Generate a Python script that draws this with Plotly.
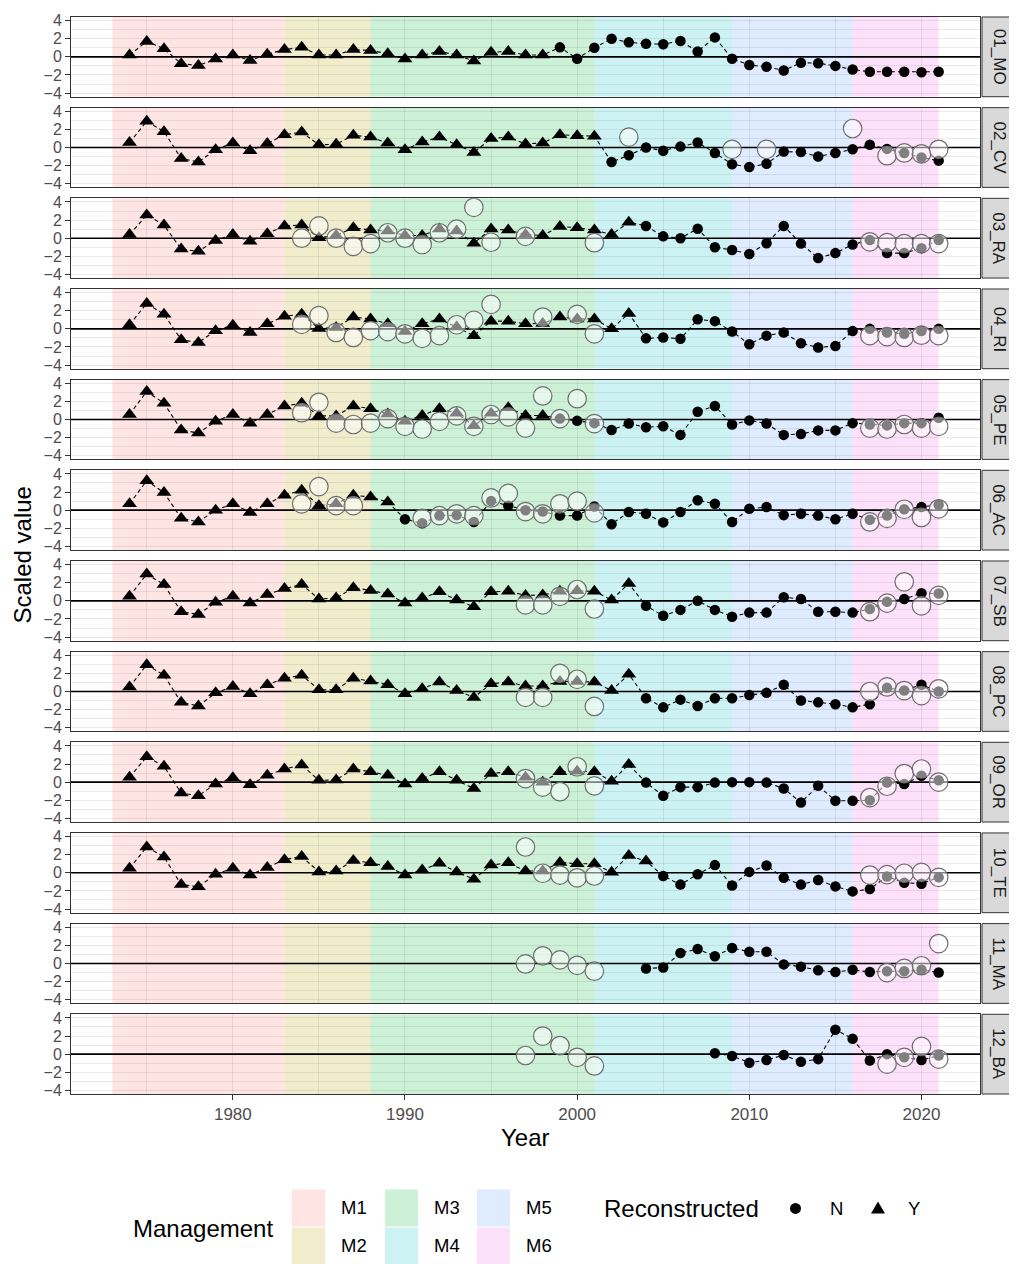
import plotly.graph_objects as go
from plotly.subplots import make_subplots

# ---------------- data ----------------
sites = ["01_MO", "02_CV", "03_RA", "04_RI", "05_PE", "06_AC",
         "07_SB", "08_PC", "09_OR", "10_TE", "11_MA", "12_BA"]

mgmt_labels = ["M1", "M2", "M3", "M4", "M5", "M6"]
mgmt_start = [1973, 1983, 1988, 2001, 2009, 2016]
mgmt_end = [1983, 1988, 2001, 2009, 2016, 2021]
mgmt_colors = ["rgba(248,118,109,0.2)", "rgba(183,159,0,0.2)", "rgba(0,186,56,0.2)",
               "rgba(0,191,196,0.2)", "rgba(97,156,255,0.2)", "rgba(245,100,227,0.2)"]

x_ticks = [1980, 1990, 2000, 2010, 2020]
y_ticks = [-4, -2, 0, 2, 4]

years_long = list(range(1974, 2022))
years_ma = list(range(2004, 2022))
years_ba = list(range(2008, 2022))

v01_MO = [0.2, 1.7, 0.9, -0.75, -0.95, -0.25, 0.2, -0.4, 0.3, 0.8,
          1.05, 0.2, 0.2, 0.8, 0.7, 0.35, -0.25, 0.2, 0.6, 0.2,
          -0.45, 0.5, 0.6, 0.2, 0.2, 1.05, -0.2, 1.0, 2.0, 1.6,
          1.45, 1.4, 1.75, 0.6, 2.15, -0.2, -0.9, -1.1, -1.5, -0.65,
          -0.7, -1.0, -1.4, -1.65, -1.65, -1.65, -1.7, -1.65]
v02_CV = [0.55, 2.9, 1.75, -1.2, -1.6, -0.25, 0.5, -0.35, 0.45, 1.4,
          1.7, 0.3, 0.35, 1.35, 1.15, 0.5, -0.25, 0.6, 1.15, 0.3,
          -0.55, 1.0, 1.15, 0.4, 0.5, 1.4, 1.3, 1.25, -1.6, -0.85,
          0.0, -0.35, 0.1, 0.55, -0.6, -1.85, -2.15, -1.8, -0.45, -0.5,
          -1.0, -0.6, -0.2, 0.3, -0.15, -0.6, -1.1, -1.45]
v03_RA = [0.4, 2.55, 1.45, -1.2, -1.45, -0.25, 0.4, -0.35, 0.5, 1.35,
          1.45, 0.05, 0.3, 1.15, 0.9, 0.8, 0.3, 0.3, 1.0, 0.8,
          -0.55, 1.0, 0.9, 0.4, 0.3, 1.3, 1.15, 0.9, 0.4, 1.75,
          1.35, 0.2, 0.0, 1.05, -1.0, -1.3, -1.75, -0.55, 1.35, -0.6,
          -2.2, -1.65, -0.7, -0.2, -1.65, -1.65, -1.1, -0.2]
v04_RI = [0.45, 2.8, 1.6, -1.2, -1.5, -0.2, 0.4, -0.4, 0.55, 1.4,
          1.6, 0.05, 0.15, 1.3, 1.1, 0.55, -0.3, 0.55, 1.1, 0.2,
          -0.75, 0.85, 0.85, 0.55, 0.6, 1.3, 1.1, 1.1, 0.0, 1.7,
          -1.05, -0.95, -1.1, 1.05, 0.85, -0.3, -1.7, -0.75, -0.4, -1.6,
          -2.05, -1.9, -0.25, 0.0, -0.4, -0.55, -0.25, 0.0]
v05_PE = [0.55, 3.1, 1.8, -1.15, -1.5, -0.2, 0.55, -0.4, 0.55, 1.5,
          1.8, 0.4, 0.4, 1.5, 1.2, 0.6, -0.2, 0.45, 1.2, 0.7,
          -0.7, 0.7, 1.3, 0.45, 0.45, 0.1, -0.15, -0.4, -1.15, -0.45,
          -0.85, -0.75, -1.7, 0.85, 1.5, -0.55, -0.1, -0.45, -1.7, -1.6,
          -1.2, -1.2, -0.4, -0.55, -0.65, -0.4, -0.4, 0.2]
v06_AC = [0.7, 3.25, 1.95, -0.9, -1.3, 0.0, 0.7, -0.25, 0.7, 1.65,
          2.2, 0.5, 0.7, 1.65, 1.45, 0.9, -1.0, -1.45, -0.6, -0.55,
          -1.3, 1.0, 0.5, 0.0, -0.15, -0.6, -0.6, 0.4, -1.55, -0.2,
          -0.4, -1.35, -0.2, 1.1, 0.7, -1.3, 0.15, 0.35, -0.55, -0.4,
          -0.6, -1.0, -0.4, -1.05, -0.6, 0.1, 0.35, 0.6]
v07_SB = [0.5, 2.95, 1.8, -1.2, -1.5, -0.15, 0.5, -0.25, 0.7, 1.35,
          1.8, 0.2, 0.3, 1.45, 1.15, 0.75, -0.25, 0.3, 1.0, 0.1,
          -0.65, 1.0, 1.05, 0.6, 0.65, 1.05, 1.1, 1.05, 0.1, 1.9,
          -0.55, -1.65, -1.0, 0.0, -1.0, -1.75, -1.3, -1.3, 0.4, 0.2,
          -1.2, -1.2, -1.3, -0.9, -0.1, 0.2, 0.85, 0.8]
v08_PC = [0.5, 2.95, 1.8, -1.2, -1.6, -0.15, 0.55, -0.25, 0.75, 1.45,
          1.8, 0.2, 0.2, 1.45, 1.15, 0.75, -0.25, 0.3, 1.05, 0.1,
          -0.65, 0.85, 1.05, 0.6, 0.6, 1.1, 1.1, 1.05, 0.1, 1.9,
          -0.75, -1.75, -0.9, -1.6, -0.75, -0.75, -0.4, -0.15, 0.75, -1.0,
          -1.2, -1.4, -1.75, -1.4, 0.4, 0.1, 0.75, 0.0]
v09_OR = [0.55, 2.8, 1.75, -1.2, -1.5, -0.2, 0.5, -0.3, 0.75, 1.45,
          1.9, 0.2, 0.25, 1.45, 1.15, 0.75, -0.2, 0.4, 1.15, 0.2,
          -0.7, 0.95, 1.15, 0.55, 0.0, 1.15, 1.2, 1.15, 0.1, 1.95,
          -0.05, -1.5, -0.55, -0.55, -0.05, 0.0, 0.0, -0.05, -0.7, -2.25,
          -0.4, -2.05, -2.05, -2.0, -0.05, -0.2, 0.7, 0.2]
v10_TE = [0.5, 2.85, 1.75, -1.3, -1.55, -0.15, 0.5, -0.25, 0.6, 1.45,
          1.8, 0.1, 0.2, 1.35, 1.1, 0.7, -0.25, 0.3, 1.05, 0.1,
          -0.7, 0.85, 1.1, 0.2, 0.2, 1.15, 1.0, 1.0, 0.05, 1.9,
          1.3, -0.35, -1.3, -0.15, 0.85, -1.4, 0.1, 0.8, -0.55, -1.3,
          -0.8, -1.5, -2.05, -1.8, -0.4, -1.1, -1.2, -0.5]
v11_MA = [-0.55, -0.45, 1.15, 1.6, 0.8, 1.7, 1.3, 1.3, -0.1, -0.35,
          -0.75, -0.95, -0.7, -0.95, -0.85, -0.85, -0.7, -1.0]
v12_BA = [0.1, -0.2, -0.95, -0.65, -0.1, -0.85, -0.55, 2.7, 1.7, -0.7,
          0.0, -0.35, -0.65, -0.15]

black_years = [years_long] * 10 + [years_ma, years_ba]
black_vals = [v01_MO, v02_CV, v03_RA, v04_RI, v05_PE, v06_AC,
              v07_SB, v08_PC, v09_OR, v10_TE, v11_MA, v12_BA]
# last year flagged as Reconstructed = "Y" (triangles); later years are "N"
recon_last_year = [1998, 2001, 2003, 2003, 1998, 1989, 2003, 2003, 2003, 2004, None, None]

# open-circle series
c01_MO_years, c01_MO_vals = [], []
c02_CV_years = [2003, 2009, 2011, 2016, 2018, 2019, 2020, 2021]
c02_CV_vals = [1.15, -0.2, -0.2, 2.1, -0.9, -0.6, -0.7, -0.2]
c03_RA_years = [1984, 1985, 1986, 1987, 1988, 1989, 1990, 1991, 1992, 1993, 1994, 1995, 1997, 2001,
                2017, 2018, 2019, 2020, 2021]
c03_RA_vals = [0.0, 1.35, 0.0, -0.9, -0.6, 0.6, 0.0, -0.7, 0.6, 1.0, 3.4, -0.45, 0.2, -0.5,
               -0.4, -0.5, -0.6, -0.6, -0.6]
c04_RI_years = [1984, 1985, 1986, 1987, 1988, 1989, 1990, 1991, 1992, 1993, 1994, 1995, 1998, 2000, 2001,
                2017, 2018, 2019, 2020, 2021]
c04_RI_vals = [0.5, 1.45, -0.4, -0.95, -0.2, -0.3, -0.55, -1.05, -0.75, 0.45, 0.95, 2.7, 1.3, 1.6, -0.55,
               -0.75, -0.85, -0.95, -0.7, -0.75]
c05_PE_years = [1984, 1985, 1986, 1987, 1988, 1989, 1990, 1991, 1992, 1993, 1994, 1995, 1996, 1997, 1998,
                1999, 2000, 2001, 2017, 2018, 2019, 2020, 2021]
c05_PE_vals = [0.75, 1.9, -0.4, -0.55, -0.4, 0.1, -0.75, -1.05, -0.2, 0.4, -0.75, 0.55, 0.3, -0.95, 2.6,
               0.1, 2.3, -0.45, -0.95, -1.05, -0.55, -0.95, -0.75]
c06_AC_years = [1984, 1985, 1986, 1987, 1991, 1992, 1993, 1994, 1995, 1996, 1997, 1998, 1999, 2000, 2001,
                2017, 2018, 2019, 2020, 2021]
c06_AC_vals = [0.7, 2.6, 0.5, 0.5, -0.9, -0.6, -0.4, -0.6, 1.35, 1.85, -0.15, -0.4, 0.7, 1.0, -0.3,
               -1.3, -0.9, 0.1, -0.8, 0.15]
c07_SB_years = [1997, 1998, 1999, 2000, 2001, 2017, 2018, 2019, 2020, 2021]
c07_SB_vals = [-0.45, -0.45, 0.5, 1.25, -0.9, -1.2, -0.25, 2.1, -0.55, 0.6]
c08_PC_years = [1997, 1998, 1999, 2000, 2001, 2017, 2018, 2019, 2020, 2021]
c08_PC_vals = [-0.65, -0.65, 2.0, 1.35, -1.65, 0.0, 0.5, 0.1, -0.45, 0.3]
c09_OR_years = [1997, 1998, 1999, 2000, 2001, 2017, 2018, 2019, 2020, 2021]
c09_OR_vals = [0.4, -0.55, -1.05, 1.7, -0.4, -1.7, -0.45, 0.95, 1.45, 0.0]
c10_TE_years = [1997, 1998, 1999, 2000, 2001, 2017, 2018, 2019, 2020, 2021]
c10_TE_vals = [2.85, -0.05, -0.25, -0.55, -0.35, -0.25, -0.2, -0.05, 0.05, -0.5]
c11_MA_years = [1997, 1998, 1999, 2000, 2001, 2018, 2019, 2020, 2021]
c11_MA_vals = [-0.05, 0.85, 0.4, -0.2, -0.85, -1.0, -0.55, -0.25, 2.2]
c12_BA_years = [1997, 1998, 1999, 2000, 2001, 2018, 2019, 2020, 2021]
c12_BA_vals = [-0.15, 2.0, 0.95, -0.35, -1.3, -1.1, -0.35, 0.85, -0.55]

circ_years = [c01_MO_years, c02_CV_years, c03_RA_years, c04_RI_years, c05_PE_years, c06_AC_years,
              c07_SB_years, c08_PC_years, c09_OR_years, c10_TE_years, c11_MA_years, c12_BA_years]
circ_vals = [c01_MO_vals, c02_CV_vals, c03_RA_vals, c04_RI_vals, c05_PE_vals, c06_AC_vals,
             c07_SB_vals, c08_PC_vals, c09_OR_vals, c10_TE_vals, c11_MA_vals, c12_BA_vals]

# ---------------- layout ----------------
OFF = 8                      # default page body margin
W, H = 1017 - OFF, 1264 - OFF
ML, MR, MT, MB = 71 - OFF, 37, 12 - OFF, 170
PW = W - ML - MR
PH = H - MT - MB
X_RANGE = [1970.6, 2023.4]
Y_RANGE = [-4.4, 4.4]


def fx(px):
    return (px - OFF - ML) / PW


def fy(py):
    return (H - MB - (py - OFF)) / PH


FONT = "Liberation Sans, Arial, Helvetica, sans-serif"
TICK_COL = "#4D4D4D"
BORDER = "#333333"
GRID = "rgba(0,0,0,0.078)"
NP = len(sites)

fig = make_subplots(rows=NP, cols=1, vertical_spacing=11 / PH)

shapes = []
annotations = []

for i, site in enumerate(sites):
    r = i + 1
    xn = "x" if r == 1 else f"x{r}"
    yn = "y" if r == 1 else f"y{r}"
    ydom = fig.layout["yaxis" if r == 1 else f"yaxis{r}"].domain
    xs, ys = black_years[i], black_vals[i]
    last = recon_last_year[i]

    # management background rects
    for m in range(len(mgmt_labels)):
        shapes.append(dict(type="rect", xref=xn, yref=yn,
                           x0=mgmt_start[m], x1=mgmt_end[m], y0=Y_RANGE[0], y1=Y_RANGE[1],
                           fillcolor=mgmt_colors[m], line=dict(width=0), layer="below"))
    # zero line
    shapes.append(dict(type="line", xref=xn, yref=yn, x0=X_RANGE[0], x1=X_RANGE[1], y0=0, y1=0,
                       line=dict(color="black", width=1.6), layer="below"))
    # strip
    shapes.append(dict(type="rect", xref="paper", yref="paper",
                       x0=fx(982), x1=fx(1016), y0=ydom[0], y1=ydom[1],
                       fillcolor="#D9D9D9", line=dict(color=BORDER, width=1), layer="above"))
    annotations.append(dict(text=site, xref="paper", yref="paper", x=fx(999),
                            y=(ydom[0] + ydom[1]) / 2,
                            showarrow=False, textangle=90, xanchor="center", yanchor="middle",
                            font=dict(family=FONT, size=17, color="#1A1A1A")))

    # dashed line through the series
    fig.add_trace(go.Scatter(x=xs, y=ys, mode="lines",
                             line=dict(color="black", width=1.1, dash="4px,3px"),
                             showlegend=False, hoverinfo="skip"), row=r, col=1)
    tx = [x for x in xs if last is not None and x <= last]
    ty = [y for x, y in zip(xs, ys) if last is not None and x <= last]
    nx = [x for x in xs if last is None or x > last]
    ny = [y for x, y in zip(xs, ys) if last is None or x > last]
    if tx:
        fig.add_trace(go.Scatter(x=tx, y=ty, mode="markers",
                                 marker=dict(symbol="triangle-up", size=13, color="black"),
                                 showlegend=False), row=r, col=1)
    if nx:
        fig.add_trace(go.Scatter(x=nx, y=ny, mode="markers",
                                 marker=dict(symbol="circle", size=10.5, color="black"),
                                 showlegend=False), row=r, col=1)
    if circ_years[i]:
        fig.add_trace(go.Scatter(x=circ_years[i], y=circ_vals[i], mode="markers",
                                 marker=dict(symbol="circle", size=18.5, color="rgba(255,255,255,0.5)",
                                             line=dict(color="#6E6E6E", width=1.2)),
                                 showlegend=False), row=r, col=1)

    bottom = (r == NP)
    fig.update_xaxes(range=X_RANGE, tickmode="array", tickvals=x_ticks,
                     showgrid=True, gridcolor=GRID, gridwidth=1.1,
                     minor=dict(tick0=1975, dtick=10, showgrid=True, gridcolor=GRID, gridwidth=0.6),
                     showline=True, mirror=True, linecolor=BORDER, linewidth=1,
                     zeroline=False, showticklabels=bottom,
                     ticks="outside" if bottom else "", ticklen=5, tickcolor=BORDER, tickwidth=1,
                     tickfont=dict(family=FONT, size=17, color=TICK_COL),
                     row=r, col=1)
    fig.update_yaxes(range=Y_RANGE, tickmode="array", tickvals=y_ticks,
                     showgrid=True, gridcolor=GRID, gridwidth=1.1,
                     minor=dict(tick0=-3, dtick=2, showgrid=True, gridcolor=GRID, gridwidth=0.6),
                     showline=True, mirror=True, linecolor=BORDER, linewidth=1,
                     zeroline=False, ticks="outside", ticklen=5, tickcolor=BORDER, tickwidth=1,
                     tickfont=dict(family=FONT, size=16, color=TICK_COL),
                     row=r, col=1)

# axis titles
annotations.append(dict(text="Year", xref="paper", yref="paper", x=fx(525), y=fy(1138),
                        showarrow=False, xanchor="center", yanchor="middle",
                        font=dict(family=FONT, size=24, color="black")))
annotations.append(dict(text="Scaled value", xref="paper", yref="paper", x=fx(22), y=fy(553),
                        showarrow=False, textangle=-90, xanchor="center", yanchor="middle",
                        font=dict(family=FONT, size=24, color="black")))

# ---------------- manual legend ----------------
annotations.append(dict(text="Management", xref="paper", yref="paper", x=fx(131), y=fy(1229),
                        showarrow=False, xanchor="left", yanchor="middle",
                        font=dict(family=FONT, size=24, color="black")))
key_x0 = [292, 292, 385, 385, 477, 477]
key_y0 = [1190, 1228, 1190, 1228, 1190, 1228]
for m in range(len(mgmt_labels)):
    shapes.append(dict(type="rect", xref="paper", yref="paper",
                       x0=fx(key_x0[m]), x1=fx(key_x0[m] + 33), y0=fy(key_y0[m] + 37), y1=fy(key_y0[m]),
                       fillcolor=mgmt_colors[m], line=dict(width=0), layer="above"))
    annotations.append(dict(text=mgmt_labels[m], xref="paper", yref="paper",
                            x=fx(key_x0[m] + 47), y=fy(key_y0[m] + 18.5),
                            showarrow=False, xanchor="left", yanchor="middle",
                            font=dict(family=FONT, size=18.5, color="black")))

annotations.append(dict(text="Reconstructed", xref="paper", yref="paper", x=fx(602), y=fy(1209),
                        showarrow=False, xanchor="left", yanchor="middle",
                        font=dict(family=FONT, size=24, color="black")))
shapes.append(dict(type="circle", xref="paper", yref="paper",
                   x0=fx(790), x1=fx(801), y0=fy(1214.5), y1=fy(1203.5),
                   fillcolor="black", line=dict(width=0), layer="above"))
annotations.append(dict(text="N", xref="paper", yref="paper", x=fx(828), y=fy(1209),
                        showarrow=False, xanchor="left", yanchor="middle",
                        font=dict(family=FONT, size=18.5, color="black")))
tri = f"M {fx(871)} {fy(1214)} L {fx(885)} {fy(1214)} L {fx(878)} {fy(1202)} Z"
shapes.append(dict(type="path", xref="paper", yref="paper", path=tri,
                   fillcolor="black", line=dict(width=0), layer="above"))
annotations.append(dict(text="Y", xref="paper", yref="paper", x=fx(906), y=fy(1209),
                        showarrow=False, xanchor="left", yanchor="middle",
                        font=dict(family=FONT, size=18.5, color="black")))

fig.update_layout(width=W, height=H, autosize=False,
                  margin=dict(l=ML, r=MR, t=MT, b=MB),
                  paper_bgcolor="white", plot_bgcolor="white",
                  font=dict(family=FONT),
                  shapes=shapes, annotations=annotations, showlegend=False)

fig.write_html("out.html")
